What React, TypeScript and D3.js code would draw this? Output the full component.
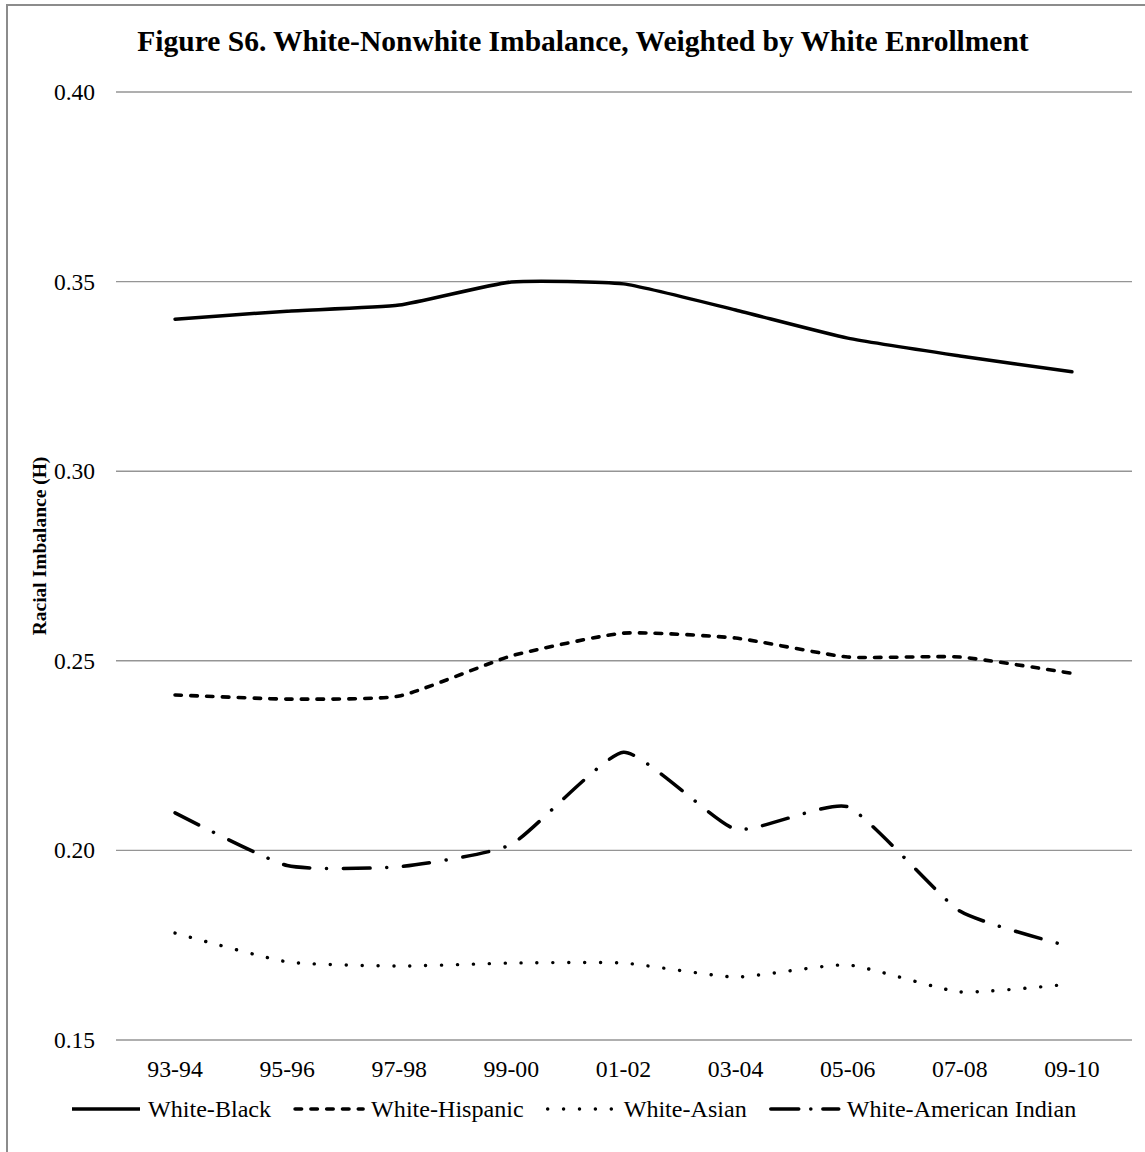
import React, { useEffect, useRef } from "react";
import * as d3 from "d3";

const categories = ["93-94", "95-96", "97-98", "99-00", "01-02", "03-04", "05-06", "07-08", "09-10"];
const whiteBlack = [0.3401, 0.3422, 0.3438, 0.3499, 0.3494, 0.3425, 0.3351, 0.3304, 0.3262];
const whiteHispanic = [0.241, 0.2399, 0.2407, 0.2513, 0.2573, 0.256, 0.251, 0.251, 0.2467];
const whiteAsian = [0.1782, 0.1706, 0.1695, 0.1703, 0.1703, 0.1666, 0.1698, 0.1627, 0.1648];
const whiteAmInd = [0.2099, 0.196, 0.1957, 0.2016, 0.2259, 0.2056, 0.2115, 0.184, 0.1745];
const yTicks = [0.15, 0.2, 0.25, 0.3, 0.35, 0.4];
const seriesNames = ["White-Black", "White-Hispanic", "White-Asian", "White-American Indian"];

const W = 1145;
const H = 1152;
const FONT = "'Liberation Serif', 'Times New Roman', serif";

export default function App() {
  const ref = useRef<SVGSVGElement>(null);

  useEffect(() => {
    document.body.style.margin = "0";
    const svg = d3.select(ref.current);
    svg.selectAll("*").remove();

    const x = d3.scaleBand<string>().domain(categories).range([119, 1128]);
    const y = d3.scaleLinear().domain([0.15, 0.4]).range([1040, 92]);

    svg.append("rect").attr("x", 0).attr("y", 0).attr("width", W).attr("height", H).attr("fill", "#fff");
    svg.append("rect").attr("x", 7).attr("y", 5).attr("width", W + 20).attr("height", H + 20)
      .attr("fill", "none").attr("stroke", "#8c8c8c").attr("stroke-width", 2);

    // title
    svg.append("text").attr("x", 583).attr("y", 51).attr("text-anchor", "middle")
      .attr("font-family", FONT).attr("font-weight", "bold").attr("font-size", 29.5)
      .text("Figure S6. White-Nonwhite Imbalance, Weighted by White Enrollment");

    // gridlines
    svg.append("g").selectAll("line").data(yTicks).join("line")
      .attr("x1", 116).attr("x2", 1132)
      .attr("y1", (d) => y(d)).attr("y2", (d) => y(d))
      .attr("stroke", "#959595").attr("stroke-width", 1.4);

    // y tick labels
    svg.append("g").selectAll("text").data(yTicks).join("text")
      .attr("x", 95).attr("y", (d) => y(d) + 8).attr("text-anchor", "end")
      .attr("font-family", FONT).attr("font-size", 23.5)
      .text((d) => d3.format(".2f")(d));

    // x tick labels
    svg.append("g").selectAll("text").data(categories).join("text")
      .attr("x", (d) => (x(d) as number) + x.bandwidth() / 2).attr("y", 1077)
      .attr("text-anchor", "middle").attr("font-family", FONT).attr("font-size", 23.8)
      .text((d) => d);

    // y title
    svg.append("text").attr("transform", "translate(46,546) rotate(-90)")
      .attr("text-anchor", "middle").attr("font-family", FONT).attr("font-weight", "bold")
      .attr("font-size", 19.5).text("Racial Imbalance (H)");

    const styles = [
      { width: 3.5, dash: null as string | null },
      { width: 3.6, dash: "6.5,9.3" },
      { width: 3.4, dash: "0.1,15.8" },
      { width: 3.5, dash: "26.5,16.75,0.1,16.75" },
    ];
    const allSeries = [whiteBlack, whiteHispanic, whiteAsian, whiteAmInd];

    const line = d3.line<number>()
      .x((_, i) => (x(categories[i]) as number) + x.bandwidth() / 2)
      .y((d) => y(d))
      .curve(d3.curveCardinal.tension(0.5));

    allSeries.forEach((vals, i) => {
      const st = styles[i];
      const p = svg.append("path").attr("d", line(vals) as string)
        .attr("fill", "none").attr("stroke", "#000").attr("stroke-width", st.width)
        .attr("stroke-linecap", "round").attr("stroke-linejoin", "round");
      if (st.dash) p.attr("stroke-dasharray", st.dash);
    });

    // legend
    let lx = 72;
    const ly = 1109;
    seriesNames.forEach((name, i) => {
      const st = styles[i];
      const l = svg.append("line").attr("x1", lx).attr("x2", lx + 68).attr("y1", ly).attr("y2", ly)
        .attr("stroke", "#000").attr("stroke-width", st.width)
        .attr("stroke-linecap", i === 0 ? "butt" : "round");
      if (st.dash) l.attr("stroke-dasharray", i === 3 ? "28,12,0.1,12" : st.dash);
      const t = svg.append("text").attr("x", lx + 76).attr("y", ly + 8)
        .attr("font-family", FONT).attr("font-size", 24.1).text(name);
      const w = (t.node() as SVGTextElement).getComputedTextLength();
      lx = lx + 76 + w + 24;
    });
  }, []);

  return (
    <svg ref={ref} width={W} height={H} style={{ position: "absolute", left: 0, top: 0, display: "block" }} />
  );
}
